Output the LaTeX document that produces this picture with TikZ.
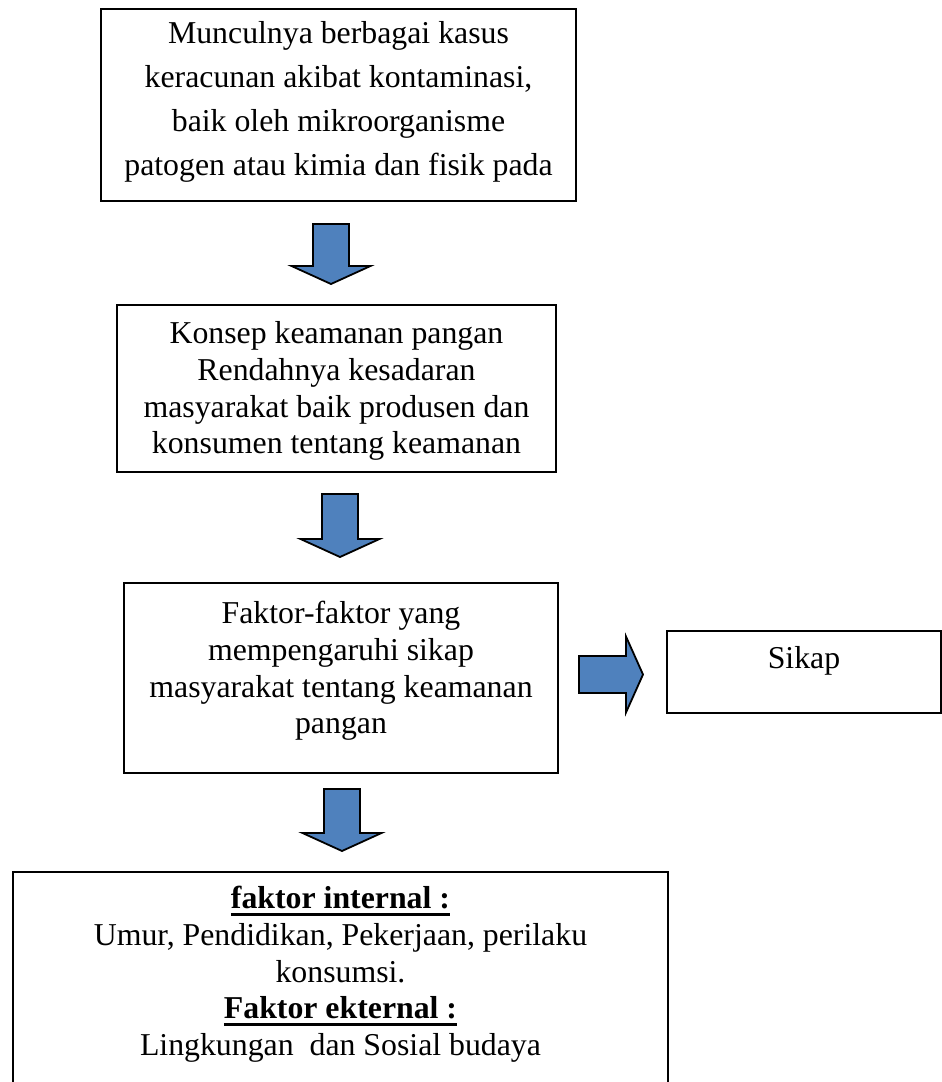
\documentclass[tikz,border=0pt]{standalone}
\usepackage{fontspec}
\setmainfont{Liberation Serif}
\usetikzlibrary{calc}
\definecolor{arrowblue}{HTML}{4F81BD}
% box text: width, height, top pad, lines
\newcommand{\boxbody}[4]{\parbox[c][#2pt][t]{#1pt}{\centering\vspace*{#3pt}\strut#4\par}}
\newcommand{\hdrline}[1]{\leavevmode\setbox0\hbox{#1}\rlap{\rule[-7pt]{\wd0}{3pt}}\box0}

\begin{document}
\begin{tikzpicture}[
    x=1pt, y=-1pt,
    box/.style={draw, line width=2pt, inner sep=0pt, anchor=north west,
                font=\fontsize{31.8pt}{36.7pt}\selectfont},
    blockarrow/.style={draw, line width=1.8pt, fill=arrowblue}
  ]
  \fill[white] (0,0) rectangle (942,1082);
  \useasboundingbox (0,0) rectangle (942,1082);
  \clip (0,0) rectangle (942,1082);

  % Flow boxes
  \node[box, font=\fontsize{31.8pt}{44pt}\selectfont] (cause) at (100,8)
    {\boxbody{475}{192}{4}{Munculnya berbagai kasus\\keracunan akibat kontaminasi,\\baik oleh mikroorganisme\\patogen atau kimia dan fisik pada}};
  \node[box] (concept) at (116,304)
    {\boxbody{439}{167}{13}{Konsep keamanan pangan\\Rendahnya kesadaran\\masyarakat baik produsen dan\\konsumen tentang keamanan}};
  \node[box] (factors) at (123,582)
    {\boxbody{434}{190}{15}{Faktor-faktor yang\\mempengaruhi sikap\\masyarakat tentang keamanan\\pangan}};
  \node[box] (attitude) at (666,630)
    {\boxbody{274}{82}{12}{Sikap}};
  \node[box] (detail) at (12,871)
    {\boxbody{655}{240}{11}{\hdrline{\textbf{faktor internal :}}\\Umur, Pendidikan, Pekerjaan, perilaku\\konsumsi.\\\hdrline{\textbf{Faktor ekternal :}}\\Lingkungan~ dan Sosial budaya}};

  % Down arrows
  \foreach \a/\b/\dx/\ga/\gb in {cause/concept/-7.5/22/20,
                                 concept/factors/3.5/21/25,
                                 factors/detail/1/15/20} {
    \coordinate (top) at ($(\a.south)+(\dx,\ga)$);
    \coordinate (tip) at ($(top |- \b.north)+(0,-\gb)$);
    \draw[blockarrow] ($(top)+(-18,0)$) -- ($(top)+(18,0)$)
      -- ($(tip)+(18,-18)$) -- ($(tip)+(39.5,-18)$) -- (tip)
      -- ($(tip)+(-39.5,-18)$) -- ($(tip)+(-18,-18)$) -- cycle;
  }

  % Right arrow
  \coordinate (start) at ($(factors.east)+(20,-3.5)$);
  \coordinate (point) at ($(start -| attitude.west)+(-23,0)$);
  \draw[blockarrow] ($(start)+(0,-18.5)$) -- ($(point)+(-17,-18.5)$)
    -- ($(point)+(-17,-38)$) -- (point) -- ($(point)+(-17,38)$)
    -- ($(point)+(-17,18.5)$) -- ($(start)+(0,18.5)$) -- cycle;
\end{tikzpicture}
\end{document}
